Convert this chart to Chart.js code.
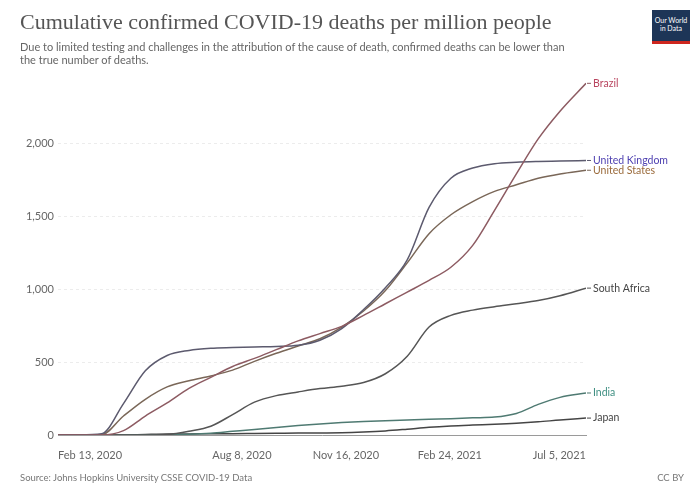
<!DOCTYPE html>
<html>
<head>
<meta charset="utf-8">
<script src="https://cdn.jsdelivr.net/npm/chart.js@4"></script>
<style>
  html, body { margin: 0; padding: 0; background: #fff; }
  #wrap { position: relative; width: 696px; height: 491px; overflow: hidden; }
  #chart { position: absolute; left: 0; top: 0; }
  .title { position: absolute; left: 20px; top: 9px; font-family: "Liberation Serif", serif; font-size: 22px; color: #555; white-space: nowrap; }
  .subtitle { position: absolute; left: 20px; top: 40px; font-family: Lato, sans-serif; font-size: 11px; line-height: 13px; color: #666; white-space: nowrap; }
  .source { position: absolute; left: 20px; top: 472px; font-family: Lato, sans-serif; font-size: 9.5px; color: #777; }
  .cc { position: absolute; right: 12px; top: 472px; font-family: Lato, sans-serif; font-size: 9.5px; color: #777; }
  .logo { position: absolute; left: 652px; top: 10px; width: 38px; height: 34px; background: #1d3557; color: #fff; font-family: Lato, sans-serif; font-size: 7px; line-height: 8px; text-align: center; padding-top: 6px; box-sizing: border-box; border-bottom: 3px solid #ce261e; }
</style>
</head>
<body>
<div id="wrap">
  <canvas id="chart" width="696" height="491"></canvas>
  <div class="title">Cumulative confirmed COVID-19 deaths per million people</div>
  <div class="subtitle">Due to limited testing and challenges in the attribution of the cause of death, confirmed deaths can be lower than<br>the true number of deaths.</div>
  <div class="logo">Our World<br>in Data</div>
  <div class="source">Source: Johns Hopkins University CSSE COVID-19 Data</div>
  <div class="cc">CC BY</div>
</div>
<script>
// days since Feb 13, 2020
const days = [0, 21, 42, 63, 84, 105, 126, 147, 168, 189, 210, 231, 252, 273, 294, 315, 336, 357, 378, 399, 420, 441, 462, 483, 508]

const brazil = [0, 0, 0, 30, 130, 220, 320, 395, 470, 525, 585, 645, 695, 745, 820, 900, 980, 1060, 1150, 1300, 1540, 1790, 2030, 2220, 2411]
const unitedKingdom = [0, 0, 8, 215, 440, 545, 580, 595, 600, 604, 607, 615, 650, 730, 860, 1010, 1200, 1560, 1760, 1830, 1860, 1870, 1875, 1878, 1882]
const unitedStates = [0, 0, 2, 130, 245, 330, 372, 405, 445, 505, 560, 610, 660, 740, 850, 990, 1180, 1380, 1510, 1600, 1670, 1715, 1760, 1790, 1815]
const southAfrica = [0, 0, 0, 0, 0, 3, 25, 60, 140, 225, 270, 295, 318, 335, 360, 420, 540, 740, 820, 856, 880, 900, 922, 955, 1007]
const india = [0, 0, 0, 0, 0, 2, 5, 12, 25, 38, 52, 65, 76, 85, 92, 98, 103, 108, 112, 118, 123, 148, 210, 258, 288]
const japan = [0, 0, 0, 0.5, 4, 7, 7.5, 8, 8.5, 10, 11.5, 13, 14, 15, 20, 28, 40, 53, 62, 68, 73, 80, 90, 103, 116]

const xTicks = [0, 177, 277, 377, 508]
const yTicks = [0, 500, 1000, 1500, 2000]

const series = [
  { name: 'Brazil', values: brazil, line: '#8d5b62', label: '#b9455f' },
  { name: 'United Kingdom', values: unitedKingdom, line: '#5c5a6e', label: '#4d3fb0' },
  { name: 'United States', values: unitedStates, line: '#7a6758', label: '#9a6a3a' },
  { name: 'South Africa', values: southAfrica, line: '#555555', label: '#444444' },
  { name: 'India', values: india, line: '#4f7a72', label: '#3f8f82' },
  { name: 'Japan', values: japan, line: '#454545', label: '#444444' },
]

const startDate = Date.UTC(2020, 1, 13)
const months = ['Jan', 'Feb', 'Mar', 'Apr', 'May', 'Jun', 'Jul', 'Aug', 'Sep', 'Oct', 'Nov', 'Dec']
function formatDay(d) {
  const dt = new Date(startDate + d * 86400000)
  return `${months[dt.getUTCMonth()]} ${dt.getUTCDate()}, ${dt.getUTCFullYear()}`
}

// names next to the end of each line
const endLabels = {
  id: 'endLabels',
  afterDatasetsDraw(chart) {
    const ctx = chart.ctx
    ctx.save()
    ctx.font = '10.5px Lato'
    ctx.textBaseline = 'middle'
    chart.data.datasets.forEach((ds, i) => {
      const meta = chart.getDatasetMeta(i)
      const last = meta.data[meta.data.length - 1]
      ctx.strokeStyle = ds.borderColor
      ctx.lineWidth = 1
      ctx.beginPath()
      ctx.moveTo(last.x + 1, last.y)
      ctx.lineTo(last.x + 5, last.y)
      ctx.stroke()
      ctx.fillStyle = series[i].label
      ctx.fillText(ds.label, last.x + 7, last.y)
    })
    ctx.restore()
  }
}

const ctx = document.getElementById('chart').getContext('2d')
const chart = new Chart(ctx, {
  type: 'line',
  data: {
    datasets: series.map(s => ({
      label: s.name,
      data: days.map((d, i) => ({ x: d, y: s.values[i] })),
      borderColor: s.line,
      borderWidth: 1.5,
      pointRadius: 0,
      cubicInterpolationMode: 'monotone',
      fill: false
    }))
  },
  options: {
    responsive: false,
    animation: false,
    layout: { padding: { left: 0, right: 110, top: 82, bottom: 28 } },
    plugins: {
      legend: { display: false },
      tooltip: { enabled: false }
    },
    scales: {
      x: {
        type: 'linear',
        min: 0,
        max: 508,
        afterBuildTicks: (scale) => { scale.ticks = xTicks.map(v => ({ value: v })) },
        afterFit: (scale) => { scale.height = 28 },
        grid: { display: false },
        border: { display: true, color: '#9a9a9a', width: 1 },
        ticks: {
          align: 'inner',
          maxRotation: 0,
          autoSkip: false,
          padding: 6,
          color: '#666',
          font: { family: 'Lato', size: 11 },
          callback: (v) => formatDay(v)
        }
      },
      y: {
        min: 0,
        max: 2420,
        afterBuildTicks: (scale) => { scale.ticks = yTicks.map(v => ({ value: v })) },
        afterFit: (scale) => { scale.width = 58 },
        grid: { color: '#ececec', drawTicks: false },
        border: { display: false, dash: [3, 3] },
        ticks: {
          padding: 4,
          color: '#666',
          font: { family: 'Lato', size: 11 },
          callback: (v) => v.toLocaleString('en-US')
        }
      }
    }
  },
  plugins: [endLabels]
})
</script>
</body>
</html>
